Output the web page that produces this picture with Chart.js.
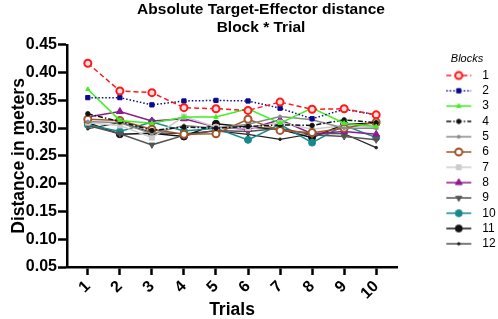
<!DOCTYPE html>
<html lang="en">
<head>
    <meta charset="UTF-8">
    <title>Absolute Target-Effector distance</title>
    <script src="https://cdn.jsdelivr.net/npm/chart.js@4.4.1/dist/chart.umd.min.js"></script>
    <style>
        body { margin: 0; background: #fff; }
    </style>
</head>
<body>
    <canvas id="chart" width="498" height="319"></canvas>

    <script>
        // trials on the x axis
        const trials = [1, 2, 3, 4, 5, 6, 7, 8, 9, 10];
        const blockNames = ['1', '2', '3', '4', '5', '6', '7', '8', '9', '10', '11', '12'];

        // mean distance per block (meters)
        const block1  = [0.417, 0.367, 0.364, 0.337, 0.335, 0.332, 0.347, 0.334, 0.335, 0.324];
        const block2  = [0.355, 0.355, 0.342, 0.349, 0.350, 0.349, 0.336, 0.317, 0.334, 0.324];
        const block3  = [0.370, 0.314, 0.309, 0.320, 0.320, 0.335, 0.309, 0.336, 0.309, 0.303];
        const block4  = [0.326, 0.312, 0.296, 0.302, 0.300, 0.303, 0.306, 0.305, 0.315, 0.310];
        const block5  = [0.312, 0.310, 0.290, 0.305, 0.300, 0.307, 0.321, 0.315, 0.300, 0.300];
        const block6  = [0.316, 0.314, 0.298, 0.289, 0.290, 0.316, 0.296, 0.292, 0.300, 0.311];
        const block7  = [0.310, 0.305, 0.283, 0.321, 0.302, 0.300, 0.310, 0.298, 0.305, 0.302];
        const block8  = [0.320, 0.330, 0.313, 0.317, 0.302, 0.298, 0.315, 0.290, 0.294, 0.289];
        const block9  = [0.305, 0.290, 0.270, 0.287, 0.296, 0.294, 0.300, 0.288, 0.285, 0.279];
        const block10 = [0.306, 0.294, 0.311, 0.295, 0.300, 0.279, 0.307, 0.274, 0.305, 0.283];
        const block11 = [0.310, 0.289, 0.291, 0.285, 0.308, 0.302, 0.298, 0.283, 0.307, 0.309];
        const block12 = [0.299, 0.310, 0.292, 0.290, 0.295, 0.289, 0.280, 0.290, 0.290, 0.265];

        const yTicks = [0.05, 0.10, 0.15, 0.20, 0.25, 0.30, 0.35, 0.40, 0.45];

        const allBlocks = [block1, block2, block3, block4, block5, block6,
                           block7, block8, block9, block10, block11, block12];

        // look of each block: line colour, dash, marker
        const looks = [
            { color: '#ff1a1a', dash: [5, 3], style: 'circle', r: 3.5, fill: '#ffe0e0', bw: 2 },
            { color: '#0a0a8c', dash: [1.5, 2], style: 'rect', r: 3, fill: '#0a0a8c', bw: 1 },
            { color: '#3ff020', dash: [], style: 'triangle', r: 2.5, fill: '#3ff020', bw: 1 },
            { color: '#111111', dash: [5, 2, 1.5, 2], style: 'circle', r: 2.2, fill: '#111111', bw: 1 },
            { color: '#8a8a8a', dash: [], style: 'circle', r: 1.5, fill: '#8a8a8a', bw: 1 },
            { color: '#a0562a', dash: [], style: 'circle', r: 3.5, fill: '#ffffff', bw: 2 },
            { color: '#cccccc', dash: [], style: 'rect', r: 3.5, fill: '#cccccc', bw: 1 },
            { color: '#8e1a8e', dash: [], style: 'triangle', r: 4, fill: '#8e1a8e', bw: 1 },
            { color: '#555555', dash: [], style: 'triangle', r: 3.5, fill: '#555555', bw: 1, rot: 180 },
            { color: '#17898a', dash: [], style: 'circle', r: 3.5, fill: '#17898a', bw: 1 },
            { color: '#111111', dash: [], style: 'circle', r: 3.5, fill: '#111111', bw: 1 },
            { color: '#222222', dash: [], style: 'circle', r: 1.3, fill: '#222222', bw: 1, lw: 1.2 }
        ];

        const datasets = allBlocks.map((vals, i) => {
            const lk = looks[i];
            return {
                label: blockNames[i],
                data: vals.map((v, j) => ({ x: trials[j], y: v })),
                borderColor: lk.color,
                borderWidth: lk.lw || 1.5,
                borderDash: lk.dash,
                pointStyle: lk.style,
                pointRadius: lk.r,
                pointRotation: lk.rot || 0,
                pointBackgroundColor: lk.fill,
                pointBorderColor: lk.color,
                pointBorderWidth: lk.bw,
                tension: 0,
                fill: false
            };
        });

        // small canvas for the legend: line segment with the marker in the middle
        function legendIcon(lk) {
            const c = document.createElement('canvas');
            c.width = 35;
            c.height = 12;
            const g = c.getContext('2d');
            g.strokeStyle = lk.color;
            g.lineWidth = lk.lw || 1.5;
            g.setLineDash(lk.dash);
            g.beginPath();
            g.moveTo(5, 6);
            g.lineTo(30, 6);
            g.stroke();
            g.setLineDash([]);
            g.fillStyle = lk.fill;
            g.lineWidth = lk.bw;
            Chart.helpers.drawPoint(g, { pointStyle: lk.style, radius: lk.r, rotation: lk.rot || 0, borderWidth: lk.bw }, 17.5, 6);
            return c;
        }

        const font = 'Arial, "Liberation Sans", Helvetica, sans-serif';

        new Chart(document.getElementById('chart'), {
            type: 'line',
            data: { datasets: datasets },
            options: {
                responsive: false,
                animation: false,
                layout: { padding: { left: 26, right: 2, top: 0, bottom: 0 } },
                plugins: {
                    tooltip: { enabled: false },
                    title: {
                        display: true,
                        text: ['Absolute Target-Effector distance', 'Block * Trial'],
                        color: '#000',
                        font: { family: font, size: 15.5, weight: 'bold', lineHeight: 1.19 },
                        padding: { top: 0, bottom: 8 }
                    },
                    legend: {
                        position: 'right',
                        align: 'start',
                        maxWidth: 58,
                        title: {
                            display: true,
                            text: 'Blocks',
                            color: '#000',
                            font: { family: font, size: 11, style: 'italic' },
                            padding: { top: 53, bottom: 0 }
                        },
                        labels: {
                            color: '#000',
                            font: { family: font, size: 12 },
                            padding: 3.3,
                            usePointStyle: true,
                            pointStyleWidth: 35,
                            generateLabels: chart => chart.data.datasets.map((ds, i) => ({
                                text: ds.label,
                                datasetIndex: i,
                                pointStyle: legendIcon(looks[i]),
                                fillStyle: looks[i].fill,
                                strokeStyle: looks[i].color,
                                lineWidth: 0,
                                hidden: false
                            }))
                        }
                    }
                },
                scales: {
                    x: {
                        type: 'linear',
                        min: 0.35,
                        max: 10.65,
                        afterBuildTicks: s => { s.ticks = trials.map(v => ({ value: v })); },
                        afterFit: s => { s.height = 52; },
                        border: { display: true, color: '#000', width: 2.5 },
                        grid: { display: true, drawOnChartArea: false, drawTicks: true, tickLength: 8, tickWidth: 2.5, tickColor: '#000' },
                        ticks: {
                            color: '#000',
                            font: { family: font, size: 16, weight: 'bold' },
                            minRotation: 45,
                            maxRotation: 45,
                            padding: 2
                        },
                        title: {
                            display: true,
                            text: 'Trials',
                            color: '#000',
                            font: { family: font, size: 17.5, weight: 'bold' },
                            padding: { top: 0, bottom: -2 }
                        }
                    },
                    y: {
                        min: 0.05,
                        max: 0.45,
                        afterBuildTicks: s => { s.ticks = yTicks.map(v => ({ value: v })); },
                        afterFit: s => { s.width = 41; },
                        border: { display: true, color: '#000', width: 2.5 },
                        grid: { display: true, drawOnChartArea: false, drawTicks: true, tickLength: 9, tickWidth: 2.5, tickColor: '#000' },
                        ticks: {
                            color: '#000',
                            font: { family: font, size: 16, weight: 'bold' },
                            padding: 1,
                            callback: v => v.toFixed(2)
                        },
                        title: {
                            display: true,
                            text: 'Distance in meters',
                            color: '#000',
                            font: { family: font, size: 17.5, weight: 'bold' },
                            padding: { top: -17, bottom: 0 }
                        }
                    },
                    // empty spacer between plot and legend
                    gap: {
                        type: 'linear',
                        position: 'right',
                        display: true,
                        afterFit: s => { s.width = 41; },
                        border: { display: false },
                        grid: { display: false },
                        ticks: { display: false }
                    }
                }
            }
        });
    </script>
</body>
</html>
